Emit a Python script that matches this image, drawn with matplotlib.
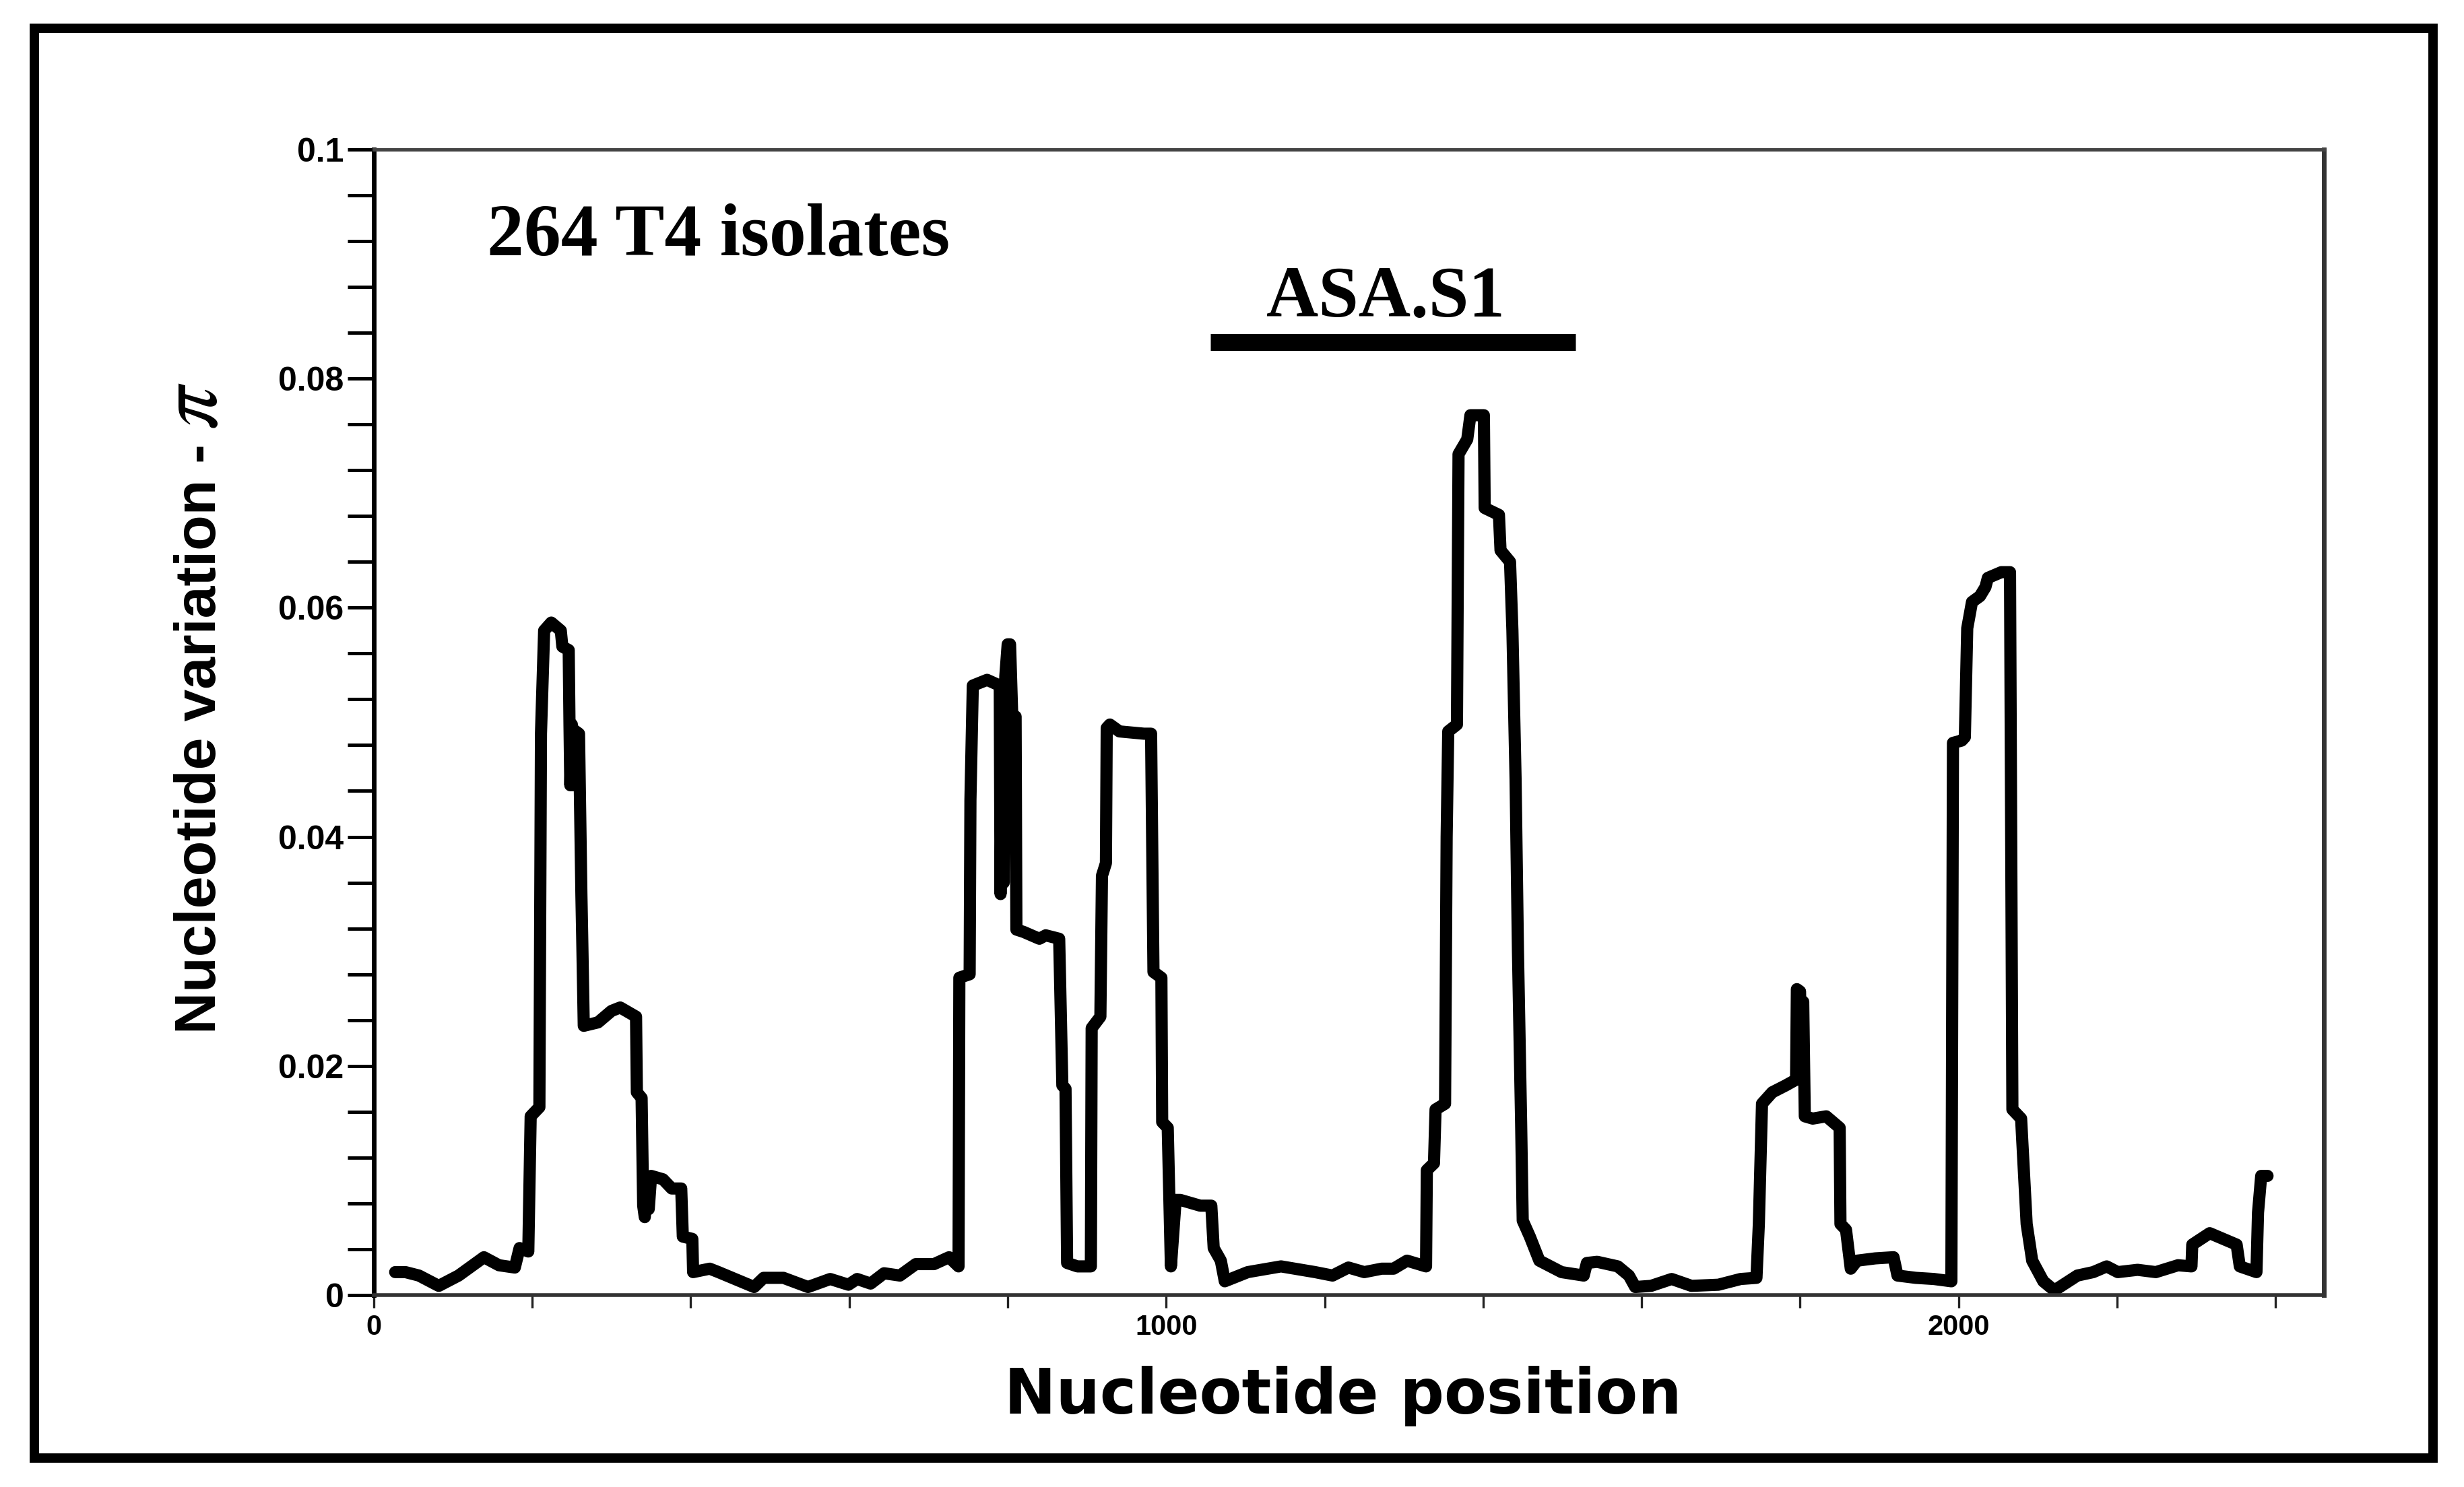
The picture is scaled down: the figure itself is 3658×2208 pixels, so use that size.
import matplotlib
matplotlib.use('Agg')
import matplotlib.pyplot as plt
from matplotlib.patches import Rectangle
from matplotlib.ticker import MultipleLocator

############################### Data ######################################
# nucleotide position (sliding window midpoint)
position = [27, 40, 57, 82, 107, 139, 158, 178, 184, 195, 198, 209, 211, 215, 224, 236, 238, 246,
            247, 248, 250, 251, 253, 259, 262, 263, 265, 283, 300, 311, 331, 332, 338, 340, 342, 344,
            347, 350, 365, 376, 388, 390, 402, 403, 424, 435, 480, 492, 517, 548, 576, 599, 610, 627,
            644, 664, 684, 707, 726, 738, 739, 752, 753, 756, 774, 790, 791, 793, 795, 797, 800, 803,
            806, 810, 811, 820, 840, 848, 865, 869, 873, 875, 888, 905, 906, 917, 919, 924, 925, 929,
            941, 972, 981, 984, 994, 995, 1002, 1006, 1012, 1018, 1043, 1057, 1060, 1069, 1074, 1103,
            1145, 1188, 1210, 1230, 1250, 1272, 1287, 1304, 1328, 1329, 1338, 1340, 1352, 1354, 1356,
            1367, 1369, 1380, 1384, 1401, 1402, 1420, 1422, 1434, 1437, 1441, 1444, 1448, 1450, 1459,
            1471, 1499, 1527, 1531, 1544, 1570, 1584, 1592, 1612, 1638, 1663, 1697, 1725, 1745, 1748,
            1752, 1765, 1782, 1795, 1796, 1800, 1802, 1804, 1806, 1816, 1833, 1850, 1851, 1858, 1864,
            1872, 1895, 1918, 1923, 1946, 1969, 1991, 1993, 2004, 2008, 2011, 2017, 2027, 2034, 2037,
            2054, 2065, 2068, 2079, 2086, 2093, 2107, 2121, 2150, 2170, 2187, 2201, 2226, 2249, 2277,
            2294, 2295, 2317, 2351, 2355, 2376, 2378, 2382, 2390]
# nucleotide diversity (pi)
pi_values = [0.0020, 0.0020, 0.0017, 0.0008, 0.0017, 0.0033, 0.0026, 0.0024, 0.0041, 0.0038, 0.0156,
             0.0164, 0.0490, 0.0580, 0.0587, 0.0580, 0.0566, 0.0563, 0.0498, 0.0445, 0.0498, 0.0445,
             0.0493, 0.0490, 0.0350, 0.0314, 0.0235, 0.0238, 0.0248, 0.0251, 0.0243, 0.0177, 0.0172,
             0.0078, 0.0068, 0.0090, 0.0075, 0.0104, 0.0101, 0.0093, 0.0093, 0.0051, 0.0049, 0.0020,
             0.0023, 0.0020, 0.0007, 0.0015, 0.0015, 0.0007, 0.0014, 0.0009, 0.0014, 0.0010, 0.0019,
             0.0017, 0.0027, 0.0027, 0.0033, 0.0025, 0.0277, 0.0280, 0.0432, 0.0532, 0.0537, 0.0532,
             0.0350, 0.0520, 0.0360, 0.0540, 0.0568, 0.0568, 0.0500, 0.0505, 0.0319, 0.0317, 0.0311,
             0.0314, 0.0311, 0.0183, 0.0180, 0.0028, 0.0025, 0.0025, 0.0233, 0.0243, 0.0366, 0.0377,
             0.0495, 0.0498, 0.0492, 0.0490, 0.0490, 0.0282, 0.0277, 0.0151, 0.0146, 0.0025, 0.0083,
             0.0083, 0.0078, 0.0078, 0.0041, 0.0030, 0.0012, 0.0020, 0.0025, 0.0020, 0.0017, 0.0024,
             0.0020, 0.0023, 0.0023, 0.0030, 0.0025, 0.0109, 0.0115, 0.0162, 0.0167, 0.0400, 0.0492,
             0.0498, 0.0734, 0.0747, 0.0768, 0.0768, 0.0687, 0.0681, 0.0650, 0.0640, 0.0580, 0.0450,
             0.0300, 0.0150, 0.0065, 0.0051, 0.0030, 0.0020, 0.0017, 0.0028, 0.0029, 0.0025, 0.0017,
             0.0007, 0.0008, 0.0014, 0.0008, 0.0009, 0.0014, 0.0015, 0.0062, 0.0167, 0.0177, 0.0183,
             0.0188, 0.0267, 0.0265, 0.0190, 0.0256, 0.0156, 0.0154, 0.0156, 0.0146, 0.0062, 0.0057,
             0.0023, 0.0030, 0.0032, 0.0033, 0.0017, 0.0015, 0.0014, 0.0012, 0.0482, 0.0484, 0.0487,
             0.0582, 0.0605, 0.0610, 0.0618, 0.0626, 0.0631, 0.0631, 0.0162, 0.0154, 0.0062, 0.0030,
             0.0012, 0.0004, 0.0017, 0.0020, 0.0025, 0.0020, 0.0022, 0.0020, 0.0026, 0.0025, 0.0044,
             0.0054, 0.0044, 0.0025, 0.0020, 0.0072, 0.0104, 0.0104]

asa_region = [1056, 1517]   # ASA.S1 fragment
asa_level = 0.0832
x_major = [0, 1000, 2000]
y_major = [0, 0.02, 0.04, 0.06, 0.08, 0.1]
y_labels = ['0', '0.02', '0.04', '0.06', '0.08', '0.1']

############################### Settings ######################################
TICK_FONT = 'Liberation Sans'
LABEL_FONT = 'DejaVu Sans'
NOTE_FONT = 'Liberation Serif'

fig = plt.figure(figsize=(18.29, 11.04), dpi=200)
ax = fig.add_axes([0.1517, 0.1291, 0.7914, 0.7704])

# main trace
ax.plot(position, pi_values, color='black', lw=6.5, solid_joinstyle='round', solid_capstyle='round')

# ASA.S1 bar + labels
ax.plot(asa_region, [asa_level, asa_level], color='black', lw=9, solid_capstyle='butt')
ax.text(sum(asa_region) / 2 - 10, 0.0854, 'ASA.S1', ha='center', va='baseline',
        fontsize=38.5, fontweight='bold', family=NOTE_FONT)
ax.text(143, 0.0908, '264 T4 isolates', ha='left', va='baseline',
        fontsize=39.5, fontweight='bold', family=NOTE_FONT)

ax.set_xlim(0, 2461)
ax.set_ylim(0, 0.1)

# ticks
ax.set_xticks(x_major)
ax.set_xticklabels([str(v) for v in x_major], fontsize=15, fontweight='bold', family=TICK_FONT)
ax.xaxis.set_minor_locator(MultipleLocator(200))
ax.set_yticks(y_major)
ax.set_yticklabels(y_labels, fontsize=18, fontweight='heavy', family=TICK_FONT)
ax.yaxis.set_minor_locator(MultipleLocator(0.004))
ax.tick_params(axis='y', which='both', direction='out', length=14, width=1.8, pad=2, color='black')
ax.tick_params(axis='x', which='both', direction='out', length=7, width=1.2, pad=3, color='#222222')

# spines
ax.spines['left'].set_linewidth(2.5)
ax.spines['left'].set_color('black')
ax.spines['bottom'].set_linewidth(2.0)
ax.spines['bottom'].set_color('#333333')
ax.spines['top'].set_linewidth(1.8)
ax.spines['top'].set_color('#444444')
ax.spines['right'].set_linewidth(2.5)
ax.spines['right'].set_color('#333333')

# axis labels
ax.set_xlabel('Nucleotide position', fontsize=33, fontweight='bold', family=LABEL_FONT)
ax.xaxis.set_label_coords(0.497, -0.062)
# y label drawn in two parts so the pi sign can be larger and italic
ax.text(-0.0812, 0.228, 'Nucleotide variation -', transform=ax.transAxes, rotation=90,
        rotation_mode='anchor', ha='left', va='baseline',
        fontsize=31, fontweight='bold', family=TICK_FONT)
ax.text(-0.0812, 0.757, '\u03c0', transform=ax.transAxes, rotation=90,
        rotation_mode='anchor', ha='left', va='baseline',
        fontsize=46, style='italic', family='STIXGeneral')

# outer frame
fig.patches.append(Rectangle((0.0139, 0.0195), 0.9735, 0.9615, transform=fig.transFigure,
                             fill=False, edgecolor='black', lw=5))

fig.savefig('out.png', dpi=200, facecolor='white')
